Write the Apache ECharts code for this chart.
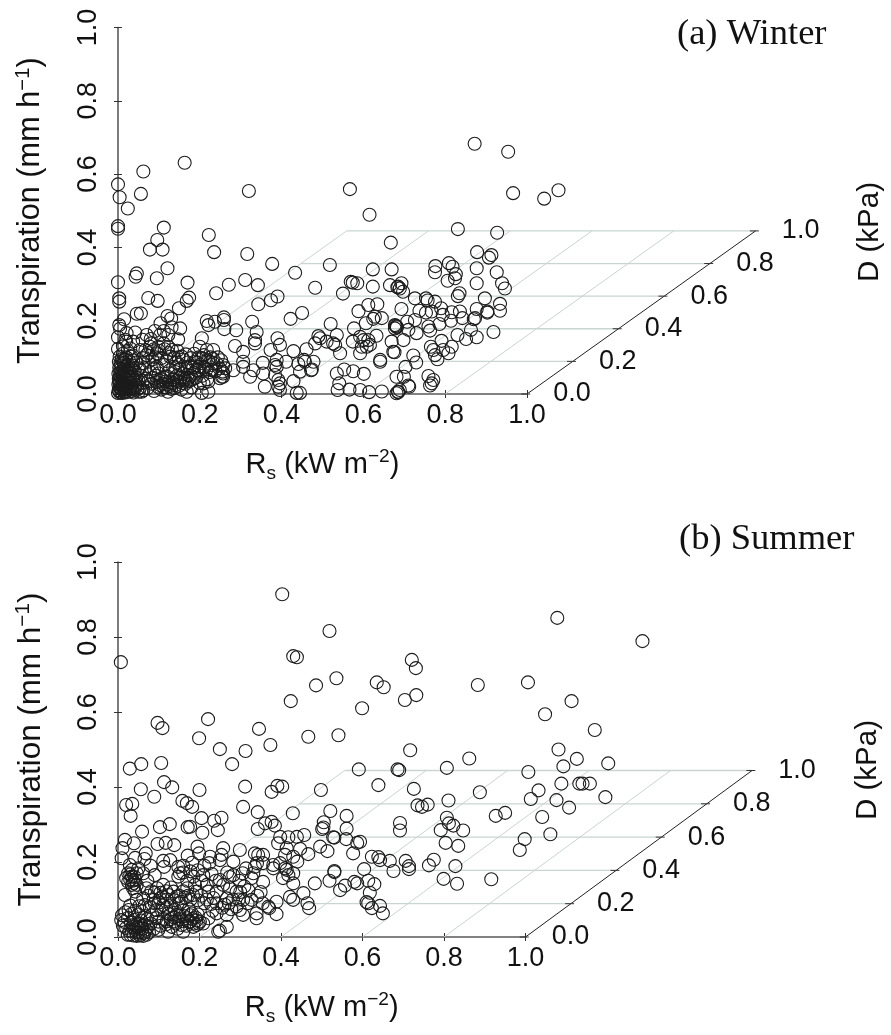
<!DOCTYPE html>
<html><head><meta charset="utf-8">
<script src="https://cdn.jsdelivr.net/npm/echarts@6/dist/echarts.min.js"></script>
<style>html,body{margin:0;padding:0;background:#fff}#c{width:891px;height:1035px}</style>
</head><body><div id="c"></div>
<script>
// Values as read against the front Rs and Transpiration axes of each panel: [Rs scale, Transpiration scale]
const winterPoints = [
[.163,.631],[.062,.607],[.320,.554],[0,.572],[.004,.537],[.056,.546],[.024,.506],[0,.458],[0,.451],[.112,.454],[.222,.434],[.096,.420],[.078,.394],[.109,.394],[.235,.387],[.316,.382],
[.377,.355],[.121,.343],[.046,.329],[.043,.320],[.095,.316],[.433,.331],[0,.305],[.170,.304],[.311,.311],[.271,.298],[.342,.297],[.240,.275],[.390,.266],[.374,.256],[.343,.245],[.003,.261],[.003,.252],[.074,.262],[.097,.254],[.174,.263],[.168,.254],[.149,.234],[.046,.219],[.056,.220],[.015,.204],[.003,.188],[.121,.213],[.130,.206],[.104,.193],[.152,.179],[.131,.182],[0,.155],[.021,.166],[.070,.161],[.103,.161],[.123,.161],[.147,.149],[.020,.143],[.037,.143],[0,.123],[.078,.129],[.099,.129],[.123,.129],
[.518,.352],[.615,.489],[.667,.413],[.623,.340],[.669,.340],[.482,.290],[.569,.306],[.574,.304],[.585,.302],[.550,.274],[.623,.293],[.665,.297],[.683,.291],[.689,.288],[.588,.226],[.612,.243],[.634,.245],[.422,.205],[.450,.221],[.328,.197],[.259,.209],[.259,.202],[.217,.199],[.221,.188],[.237,.197],[.289,.174],[.260,.177],[.339,.169],[.335,.147],[.335,.138],[.390,.152],[.396,.134],[.520,.191],[.577,.179],[.606,.193],[.628,.211],[.624,.205],[.645,.207],[.677,.188],[.681,.184],[.677,.179],[.632,.159],[.490,.158],[.494,.152],[.535,.161],[.510,.143],[.526,.138],[.531,.134],[.543,.111],[.482,.138],[.461,.122],[.429,.117],[.373,.120],[.286,.131],[.306,.115],[.574,.143],[.592,.156],[.600,.147],[.596,.129],[.616,.134],[.592,.111],[.669,.143],[.673,.115],[.641,.093],[.641,.088],[.455,.093],[.457,.088],[.478,.088],[.474,.067],[.441,.082],[.445,.061],[.411,.088],[.388,.093],[.384,.079],[.388,.074],[.354,.085],[.331,.065],[.306,.088],[.306,.074],[.323,.047],[.282,.065],[.257,.079],[.257,.056],[.254,.047],[.233,.084],[.229,.065],[.359,.020],[.355,.056],[.392,.038],[.396,.029],[.392,.020],[.396,.011],[.384,.052],[.429,.035],[.437,.003],[.535,.056],[.553,.067],[.575,.062],[.601,.055],[.541,.029],[.537,.011],[.566,.012],[.592,.011],[.614,.005],[.645,.007],[.681,.047],[.685,.006],
[.872,.683],[.954,.661],[.966,.548],[1.042,.533],[1.077,.556],[.567,.559],[.831,.450],[.927,.440],[.878,.387],[.913,.379],[.907,.372],[.809,.357],[.818,.347],[.776,.349],[.775,.332],[.877,.343],[.926,.332],[.826,.327],[.824,.316],[.806,.309],[.877,.302],[.939,.302],[.946,.288],[.835,.275],[.831,.267],[.685,.293],[.693,.302],[.697,.279],[.726,.261],[.753,.261],[.757,.255],[.775,.252],[.897,.261],[.934,.246],[.934,.227],[.877,.232],[.903,.225],[.903,.222],[.790,.234],[.794,.216],[.737,.227],[.753,.222],[.767,.225],[.816,.223],[.836,.225],[.842,.207],[.814,.200],[.873,.207],[.870,.204],[.693,.232],[.786,.191],[.759,.184],[.763,.173],[.730,.166],[.726,.202],[.707,.197],[.710,.175],[.679,.186],[.682,.182],[.698,.147],[.918,.169],[.863,.175],[.877,.155],[.851,.150],[.830,.161],[.791,.145],[.765,.129],[.771,.120],[.816,.129],[.808,.111],[.795,.120],[.781,.095],[.775,.106],[.722,.105],[.729,.086],[.703,.074],[.676,.114],[.612,.147],[.608,.129],[.699,.047],[.710,.023],[.712,.020],[.689,.011],[.685,.005],[.681,.002],[.759,.049],[.771,.038],[.767,.029],[.763,.023],[.445,.003],[.472,.065],
[0,.003],[.002,.010],[.004,.018],[.006,.004],[.009,.012],[.001,.026],[.005,.030],[.011,.022],[.014,.006],[.017,.015],[.002,.040],[.007,.044],[.012,.036],[.016,.028],[.020,.008],[.023,.020],[.001,.055],[.006,.060],[.011,.052],[.015,.046],[.020,.038],[.025,.030],[.028,.012],[.003,.072],[.008,.078],[.013,.068],[.018,.060],[.023,.052],[.028,.044],[.032,.022],[.035,.008],[.002,.088],[.009,.095],[.015,.085],[.021,.076],[.027,.066],[.033,.056],[.037,.036],[.041,.016],[.004,.102],[.012,.110],[.020,.100],[.027,.090],[.034,.078],[.040,.064],[.045,.044],[.048,.026],[.051,.006],[.024,.118],[.036,.105],[.045,.086],[.052,.070],[.056,.050],[.060,.030],[.062,.010],
[.003,.007],[.007,.014],[.010,.003],[.013,.019],[.018,.004],[.021,.013],[.003,.033],[.008,.025],[.013,.030],[.018,.022],[.026,.006],[.030,.018],[.034,.014],[.004,.048],[.009,.036],[.014,.055],[.019,.044],[.024,.036],[.030,.028],[.038,.004],[.043,.024],[.005,.066],[.010,.062],[.016,.074],[.022,.064],[.028,.056],[.035,.046],[.041,.040],[.047,.012],[.054,.018],[.058,.006],[.006,.084],[.012,.090],[.018,.094],[.025,.080],[.031,.070],[.037,.092],[.043,.058],[.050,.036],
[.068,.042],[.072,.016],[.078,.060],[.082,.028],[.088,.008],[.092,.050],[.097,.020],[.102,.036],[.106,.012],[.110,.028],[.114,.044],[.118,.018],[.122,.006],[.126,.032],[.130,.014],[.135,.040],[.140,.024],[.145,.050],[.150,.034],[.155,.012],[.160,.044],[.165,.028],[.170,.052],[.175,.036],[.180,.018],[.186,.058],[.190,.044],[.196,.064],[.200,.030],[.206,.050],[.212,.072],[.218,.040],[.224,.060],[.168,.006],[.205,.003],[.221,.006],[.209,.029],[.221,.034],[.257,.047],[.256,.061],[.249,.043],[.262,.070],[.229,.079],[.241,.084],[.233,.120],[.217,.120],[.200,.129],[.205,.152],[.156,.102],[.188,.088],[.209,.074],[.192,.065],[.176,.074],[.160,.056],[.135,.074],[.127,.065],[.054,.120],[.070,.106],[.095,.111],[.127,.102],[.111,.079],[.062,.084],[.033,.102],[.095,.074],[.005,.178],[.018,.148],[.084,.094],[.112,.138],[.145,.118],
[.104,.024],[.108,.040],[.112,.018],[.116,.034],[.120,.026],[.128,.022],[.133,.030],[.138,.016],[.143,.036],[.148,.022],[.153,.044],[.158,.030],[.163,.040],[.168,.034],[.173,.044],[.178,.050],[.183,.040],[.074,.034],[.086,.044],[.094,.032],[.066,.070],[.100,.056],[.120,.048],[.140,.060],[.074,.088],[.088,.070],[.150,.080],[.170,.086],[.198,.100],[.214,.090],
[.060,.098],[.067,.120],[.074,.112],[.081,.138],[.088,.122],[.092,.100],[.100,.118],[.106,.098],[.114,.122],[.118,.090],[.124,.112],[.132,.120],[.138,.098],[.142,.086],[.148,.100],[.152,.068],[.160,.094],[.166,.108],[.170,.070],[.178,.098],[.184,.072],[.186,.110],[.194,.086],[.198,.074],[.204,.098],[.210,.106],[.216,.066],[.220,.092],[.226,.100],[.232,.096],[.238,.062],[.244,.100],[.248,.070],[.252,.092],[.080,.150],[.112,.172],[.090,.172],[.060,.148],[.042,.168],[.012,.130],[.030,.124]
];
const summerPoints = [
[.403,.914],[.007,.733],[.430,.749],[.439,.746],[.424,.629],[.097,.571],[.109,.557],[.221,.581],[.199,.530],[.250,.501],[.346,.555],[.313,.496],[.374,.512],[.280,.461],[.029,.449],[.057,.461],[.106,.464],[.113,.413],[.133,.399],[.056,.394],[.200,.392],[.312,.401],[.377,.387],[.391,.403],[.403,.401],
[.089,.374],[.020,.352],[.035,.355],[.031,.323],[.158,.363],[.169,.357],[.182,.347],[.307,.347],[.343,.333],[.429,.330],[.205,.317],[.236,.310],[.254,.318],[.245,.285],[.207,.278],[.127,.301],[.103,.293],[.177,.294],[.171,.293],[.059,.281],[.343,.288],[.361,.303],[.377,.307],[.385,.297],[.418,.266],[.398,.267],[.393,.250],[.017,.259],[.011,.237],[.009,.210],[.039,.250],[.097,.248],[.117,.251],[.138,.245],[.195,.241],[.199,.223],[.258,.237],[.254,.219],[.250,.205],[.299,.232],[.283,.201],[.226,.214],[.224,.197],[.171,.217],[.068,.223],[.065,.208],[.042,.211],[.029,.192],[.111,.203],[.128,.205],[.113,.187],[.148,.187],[.152,.170],[.148,.161],[.336,.223],[.344,.219],[.356,.219],[.341,.197],[.356,.197],[.336,.187],[.332,.170],[.328,.157],[.356,.147],[.314,.183],[.381,.192],[.398,.197],[.410,.219],[.430,.214],[.414,.237],[.439,.267],[.410,.183],[.418,.165],[.430,.170],[.430,.143],[.422,.107],[.430,.099],[.369,.081],[.389,.094],[.389,.061],[.340,.063],[.340,.050],[.328,.099],[.307,.099],[.299,.072],[.307,.059],[.291,.081],[.320,.125],[.283,.165],[.258,.139],[.250,.152],[.275,.130],[.291,.121],[.209,.165],[.185,.161],[.218,.139],[.189,.139],[.193,.121],[.222,.121],[.242,.121],[.242,.090],[.267,.103],[.242,.063],[.267,.059],[.222,.050],[.250,.017],[.246,.014],[.267,.027],[.181,.063],[.201,.041],[.193,.032],[.177,.041],[.185,.027],[.209,.036],[.156,.094],[.152,.090],[.144,.059],[.136,.041],[.156,.032],[.160,.014],[.123,.014],[.132,.027],[.123,.063],[.111,.085],[.095,.072],[.087,.099],[.103,.103],[.111,.139],[.136,.121],[.099,.041],[.099,.019],[.070,.130],[.062,.103],
[.020,.157],[.025,.147],[.034,.161],[.042,.152],[.034,.139],[.046,.139],[.037,.130],[.025,.170],[.046,.170],[.034,.179],[.017,.112],[.042,.121],[.046,.099],[.062,.170],[.050,.183],[.030,.153],[.038,.144],[.030,.167],[.041,.160],[.036,.150],
[.010,.058],[.018,.066],[.026,.072],[.034,.062],[.042,.070],[.050,.060],[.058,.068],[.066,.056],[.008,.045],[.016,.040],[.024,.050],[.032,.038],[.040,.046],[.048,.036],[.056,.044],[.064,.032],[.072,.048],[.080,.036],[.020,.024],[.028,.016],[.036,.026],[.044,.012],[.052,.022],[.060,.010],[.068,.020],[.076,.012],[.030,.006],[.038,.004],[.046,.003],[.054,.004],[.062,.003],[.070,.006],[.084,.060],[.088,.022],[.094,.050],[.105,.030],[.112,.048],[.118,.034],[.128,.060],[.138,.052],[.150,.048],[.162,.056],[.170,.050],[.178,.058],[.190,.052],[.196,.060],[.146,.022],[.168,.030],[.012,.030],[.024,.006],[.030,.084],[.052,.082],[.066,.085],[.078,.080],[.090,.090],
[.038,.032],[.046,.026],[.054,.034],[.060,.022],[.050,.012],[.042,.020],[.034,.016],[.066,.012],[.058,.030],[.074,.028],[.120,.042],[.130,.048],[.142,.036],[.152,.056],[.158,.042],[.174,.040],[.182,.048],[.186,.036],[.192,.044],[.198,.036],[.108,.070],[.118,.078],[.130,.084],[.140,.072],[.100,.092],[.120,.100],[.150,.110],[.170,.130],
[.075,.110],[.082,.122],[.090,.118],[.096,.130],[.104,.118],[.110,.108],[.118,.122],[.124,.112],[.130,.132],[.138,.098],[.144,.108],[.160,.122],[.165,.105],[.172,.110],[.178,.100],[.184,.112],[.196,.098],[.204,.110],[.212,.090],[.218,.100],[.228,.088],[.234,.104],[.232,.070],[.256,.078],[.262,.086],[.272,.090],[.278,.074],[.282,.100],[.296,.100],[.300,.120],[.310,.135],[.318,.090],[.160,.172],[.170,.150],[.178,.175],[.196,.178],[.205,.150],[.230,.168],[.240,.150],[.268,.172],[.274,.160],[.298,.150],[.306,.170],[.212,.190],[.182,.198],[.160,.190],[.090,.165],[.080,.190],[.072,.150],[.350,.120],[.342,.110],[.160,.070],[.174,.074],
[.591,.447],[.686,.447],[.639,.405],[.498,.392],[.521,.336],[.561,.323],[.505,.306],[.504,.292],[.501,.288],[.561,.289],[.560,.261],[.531,.265],[.528,.266],[.587,.251],[.594,.254],[.577,.223],[.496,.241],[.514,.229],[.623,.214],[.639,.213],[.643,.205],[.667,.203],[.676,.176],[.604,.181],[.531,.176],[.531,.173],[.483,.143],[.519,.150],[.580,.147],[.587,.143],[.557,.137],[.545,.125],[.614,.150],[.629,.141],[.618,.118],[.610,.093],[.614,.090],[.623,.077],[.643,.083],[.650,.063],[.457,.272],[.447,.235],[.467,.221],[.440,.201],[.381,.183],[.414,.179],[.405,.157],[.455,.117],[.465,.090],[.469,.077],[.371,.077],[.355,.090],
[.519,.816],[1.078,.851],[1.287,.789],[1.006,.679],[1.113,.629],[1.048,.594],[1.170,.552],[1.081,.500],[1.126,.475],[1.093,.455],[1.203,.463],[1.007,.440],[1.088,.409],[1.132,.409],[1.140,.409],[1.158,.409],[1.032,.391],[1.013,.368],[1.076,.365],[1.107,.345],[1.196,.373],[1.041,.320],[1.061,.274],[.998,.261],[.986,.232],
[.486,.671],[.536,.690],[.721,.739],[.731,.717],[.635,.679],[.652,.666],[.732,.645],[.704,.632],[.883,.672],[.599,.610],[.467,.534],[.541,.538],[.717,.498],[.862,.476],[.807,.451],[.690,.445],[.726,.395],[.888,.386],[.811,.364],[.735,.351],[.746,.347],[.760,.353],[.927,.323],[.950,.331],[.692,.304],[.692,.284],[.807,.318],[.812,.303],[.823,.297],[.847,.284],[.792,.285],[.804,.251],[.835,.243],[.706,.203],[.714,.189],[.714,.181],[.775,.206],[.763,.191],[.828,.189],[.799,.155],[.832,.142],[.916,.154]
];
const rsTicks = [0, .2, .4, .6, .8, 1];
const transpirationTicks = [0, .2, .4, .6, .8, 1];
const dTicks = [0, .2, .4, .6, .8, 1];
const panelTitles = ['(a) Winter', '(b) Summer'];
const rsName = '{n|R}{sub|s}{n| (kW m}{sup|\u22122}{n|)}';
const tName = '{n|Transpiration (mm h}{sup|\u22121}{n|)}';
const dName = 'D (kPa)';

const AXIS = '#5a5a5a', FLOOR = '#c9d5d2', INK = '#1c1c1c', FONT = 'Liberation Sans';
// Oblique depth of the D axis on the floor, in Rs and Transpiration scale units.
const panels = [
  {left:118, top:27.5, width:409, height:366.5, depth:[.559,.445], points:winterPoints, title:panelTitles[0], titleLeft:677, titleTop:16, dY:232, dX:870, tFont:30.7},
  {left:118, top:562, width:407.5, height:375, depth:[.556,.444], points:summerPoints, title:panelTitles[1], titleLeft:679, titleTop:521, dY:770, dX:868, tFont:31.4}
];
const mkRich = s => ({
  n:{fontSize:s,fontFamily:FONT,color:'#111',lineHeight:42,verticalAlign:'middle'},
  sub:{fontSize:s*.66,fontFamily:FONT,color:'#111',lineHeight:42,verticalAlign:'bottom',padding:[0,0,3,0]},
  sup:{fontSize:s*.66,fontFamily:FONT,color:'#111',lineHeight:42,verticalAlign:'top',padding:[3,0,0,0]}
});
const grid=[],xAxis=[],yAxis=[],series=[],title=[],graphic=[];
panels.forEach((p,i)=>{
  grid.push({left:p.left,top:p.top,width:p.width,height:p.height,containLabel:false,outerBoundsMode:'none'});
  const lab={color:'#111',fontSize:27,fontFamily:FONT,formatter:v=>v.toFixed(1),showMinLabel:true,showMaxLabel:true};
  const line={show:true,lineStyle:{color:AXIS,width:1.6}};
  const base={type:'value',min:0,max:1,interval:.2,gridIndex:i,splitLine:{show:false}};
  xAxis.push({...base,position:'bottom',axisLine:line,axisTick:{length:4,lineStyle:{color:'#333',width:1}},axisLabel:{...lab,margin:8},
    name:rsName,nameLocation:'middle',nameGap:50,nameTextStyle:{rich:mkRich(29)}});
  xAxis.push({...base,position:'bottom',axisLine:{show:false},axisTick:{inside:true,length:4,lineStyle:{color:'#333',width:1}},axisLabel:{show:false}});
  yAxis.push({...base,position:'left',axisLine:line,axisTick:{length:4,lineStyle:{color:'#333',width:1}},axisLabel:{...lab,rotate:90,margin:16},
    name:tName,nameLocation:'middle',nameGap:66,nameRotate:90,nameTextStyle:{rich:mkRich(p.tFont)}});
  yAxis.push({...base,position:'left',axisLine:{show:false},axisTick:{inside:true,length:4,lineStyle:{color:'#333',width:1}},axisLabel:{show:false}});
  const xi=i*2, yi=i*2;
  const [dx,dy]=p.depth;
  const segSeries=(segs,color,w,z)=>({type:'custom',xAxisIndex:xi,yAxisIndex:yi,silent:true,z,clip:false,data:segs,
    renderItem:(_,api)=>{const a=api.coord([api.value(0),api.value(1)]),b=api.coord([api.value(2),api.value(3)]);
      return {type:'line',shape:{x1:a[0],y1:a[1],x2:b[0],y2:b[1]},style:{stroke:color,lineWidth:w,fill:null}};}});
  series.push(segSeries(dTicks.filter(d=>d>0).map(d=>[d*dx,d*dy,1+d*dx,d*dy]),FLOOR,1.3,1));
  series.push(segSeries(rsTicks.filter(r=>r<1).map(r=>[r,0,r+dx,dy]),FLOOR,1,1));
  series.push(segSeries([[1,0,1+dx,dy]],'#222',1,2));
  series.push(segSeries(dTicks.map(d=>[1+d*dx-.014,d*dy,1+d*dx+.008,d*dy]),'#333',1,2));
  series.push({type:'scatter',xAxisIndex:xi,yAxisIndex:yi,clip:false,silent:true,z:2,symbolSize:1,itemStyle:{color:'transparent',opacity:1},
    data:dTicks.map(d=>[1+d*dx,d*dy,d]),
    label:{show:true,position:'inside',offset:[45,0],fontSize:27,fontFamily:FONT,color:'#111',formatter:o=>o.data[2].toFixed(1)}});
  series.push({type:'scatter',xAxisIndex:xi,yAxisIndex:yi,clip:false,z:3,symbol:'circle',symbolSize:13,data:p.points,
    itemStyle:{color:'transparent',borderColor:INK,borderWidth:1.1,opacity:1},large:false,progressive:0,animation:false});
  title.push({text:p.title,left:p.titleLeft,top:p.titleTop,padding:0,textStyle:{fontFamily:'Liberation Serif',fontSize:36.5,fontWeight:'normal',color:'#111'}});
  graphic.push({type:'text',x:p.dX,y:p.dY,rotation:Math.PI/2,style:{text:dName,fontFamily:FONT,fontSize:29.5,fill:'#111',align:'center',verticalAlign:'middle'}});
});
const chart=echarts.init(document.getElementById('c'),null,{renderer:'canvas'});
chart.setOption({animation:false,backgroundColor:'#fff',title,grid,xAxis,yAxis,series,graphic,tooltip:{show:false}});
</script></body></html>
